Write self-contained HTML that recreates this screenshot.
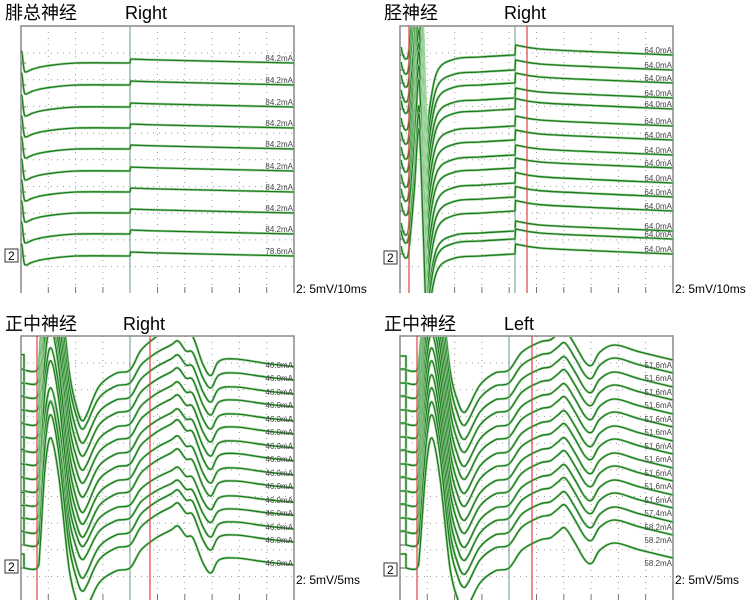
<!DOCTYPE html>
<html><head><meta charset="utf-8">
<style>
html,body{margin:0;padding:0;background:#fff;}
svg{display:block;}
text{font-family:"Liberation Sans","Noto Sans CJK SC",sans-serif;}
</style></head>
<body>
<svg id="c" width="751" height="606" xmlns="http://www.w3.org/2000/svg"></svg>
<script>
// ---------- data ----------
const titles1 = ["腓总神经", "胫神经", "正中神经", "正中神经"];
const sides = ["Right", "Right", "Right", "Left"];
const scales = ["2: 5mV/10ms", "2: 5mV/10ms", "2: 5mV/5ms", "2: 5mV/5ms"];
const labelsP1 = ["84.2mA","84.2mA","84.2mA","84.2mA","84.2mA","84.2mA","84.2mA","84.2mA","84.2mA","78.6mA"];
const labelsP2 = ["64.0mA","64.0mA","64.0mA","64.0mA","64.0mA","64.0mA","64.0mA","64.0mA","64.0mA","64.0mA","64.0mA","64.0mA","64.0mA","64.0mA","64.0mA"];
const labelsP3 = ["46.0mA","46.0mA","46.0mA","46.0mA","46.0mA","46.0mA","46.0mA","46.0mA","46.0mA","46.0mA","46.0mA","46.0mA","46.0mA","46.0mA","46.0mA"];
const labelsP4 = ["51.6mA","51.6mA","51.6mA","51.6mA","51.6mA","51.6mA","51.6mA","51.6mA","51.6mA","51.6mA","51.6mA","57.4mA","58.2mA","58.2mA","58.2mA"];
// trace baselines per panel
const baseP1 = [63,85,107,128,149,171,192,213,234,256];
const baseP2 = [55,70,83,98,109,126,140,155,168,183,197,211,231,239,254];
const baseP3 = [370,383,397,410,424,437,451,464,478,491,505,518,532,545,568];
const baseP4 = [370,383,397,410,424,437,451,464,478,491,505,518,532,545,568];
// per-trace amplitude factors of the responses
const ampP1 = [1,1,1,1,1,1,1,1,1,1];
const ampP2 = [1,1,1,1,1.05,1,1,1,1,1.05,1.05,1.05,1,1,1];
const ampP3 = [1.1,1,1,1,1,1,1,1.05,1,1,0.9,0.9,1,1,1];
const ampP4 = [1,1,1,1,1,1,1,1,1,1,1,1,1,1,1];
// waveform templates: [x offset px from frame left, y offset (negative = up)]
const tplP1 = [[0,-12],[1,-10],[3,6],[5,9],[12,6],[25,3],[55,0],[109,0],[109.5,-4],[140,-3],[273,0]];
const tplP2 = [[1,-8],[3,0],[6,4],[9,-5],[14,-60],[19,-125],[23,-30],[27,80],[30,50],[38,15],[55,4],[80,2],[115,0],[115.5,-10],[140,-6],[200,-3],[273,0]];
const tplP3 = [[0,-14],[3,-14],[3,0],[16,0],[19,-20],[24,-100],[30,-130],[38,-90],[48,0],[56,35],[61,46],[66,40],[78,15],[95,3],[109,0],[120,-18],[135,-30],[150,-38],[157,-42],[165,-32],[172,-30],[182,-5],[190,5],[198,-8],[215,-10],[245,-6],[273,-3]];
const tplP4 = [[0,-14],[6,-14],[6,0],[17,0],[20,-20],[26,-100],[32,-130],[40,-90],[50,0],[58,32],[63,42],[68,38],[80,15],[95,3],[109,0],[122,-18],[140,-28],[150,-30],[158,-36],[165,-40],[175,-25],[185,-8],[192,-5],[200,-18],[215,-25],[240,-18],[273,-10]];

// ---------- layout ----------
const panels = [
 {x:21,y:26,w:273,h:267,red:[],mid:130,labels:labelsP1,base:baseP1,amp:ampP1,tpl:tplP1,tx:5,ty:19,sx:125,scy:293,boxy:249},
 {x:400,y:26,w:273,h:267,red:[409,527],mid:515,labels:labelsP2,base:baseP2,amp:ampP2,tpl:tplP2,tx:384,ty:19,sx:504,scy:293,boxy:251},
 {x:21,y:336,w:273,h:264,red:[37,150],mid:130,labels:labelsP3,base:baseP3,amp:ampP3,tpl:tplP3,tx:5,ty:330,sx:123,scy:584,boxy:560},
 {x:400,y:336,w:273,h:264,red:[417,532],mid:509,labels:labelsP4,base:baseP4,amp:ampP4,tpl:tplP4,tx:384,ty:330,sx:504,scy:584,boxy:563}
];
const NS="http://www.w3.org/2000/svg";
const svg=document.getElementById('c');
function mk(tag,attrs,parent){const e=document.createElementNS(NS,tag);for(const k in attrs)e.setAttribute(k,attrs[k]);(parent||svg).appendChild(e);return e;}
function isV(a,b){return Math.abs(b[0]-a[0])<1;}
function smooth(pts){
  let d="M"+pts[0][0].toFixed(1)+","+pts[0][1].toFixed(1);
  for(let i=0;i<pts.length-1;i++){
    const p1=pts[i],p2=pts[i+1];
    if(isV(p1,p2)){d+=" L"+p2[0].toFixed(1)+","+p2[1].toFixed(1);continue;}
    let p0=pts[Math.max(0,i-1)],p3=pts[Math.min(pts.length-1,i+2)];
    if(i>0&&isV(p0,p1))p0=p1;
    if(i+2<pts.length&&isV(p2,p3))p3=p2;
    const c1=[p1[0]+(p2[0]-p0[0])/6,p1[1]+(p2[1]-p0[1])/6];
    const c2=[p2[0]-(p3[0]-p1[0])/6,p2[1]-(p3[1]-p1[1])/6];
    d+=" C"+c1[0].toFixed(1)+","+c1[1].toFixed(1)+" "+c2[0].toFixed(1)+","+c2[1].toFixed(1)+" "+p2[0].toFixed(1)+","+p2[1].toFixed(1);
  }
  return d;
}
panels.forEach((p,pi)=>{
  const g=mk('g',{});
  
  
  const t=mk('text',{x:p.tx,y:p.ty,'font-size':18,fill:'#000'},g);
  t.textContent=titles1[pi];
  
  
  const s=mk('text',{x:p.sx,y:p.ty,'font-size':18,fill:'#000'},g);
  s.textContent=sides[pi];
  
  
  const sc=mk('text',{x:p.x+p.w+2,y:p.scy,'font-size':12,fill:'#000'},g);
  sc.textContent=scales[pi];
  
  
  const step=27.3;
  for(let gx=p.x+step;gx<p.x+p.w-2;gx+=step){
    if(Math.abs(gx-p.mid)<5)continue;
    const l=mk('line',{x1:gx,y1:p.y,x2:gx,y2:p.y+p.h,stroke:'#999','stroke-width':1,'stroke-dasharray':'1,5'},g);
    
    
    mk('line',{x1:gx,y1:p.y+p.h-6,x2:gx,y2:p.y+p.h,stroke:'#777','stroke-width':1},g);
  }
  for(let gy=p.y+27;gy<p.y+p.h-2;gy+=26.7){
    const l=mk('line',{x1:p.x,y1:gy,x2:p.x+p.w,y2:gy,stroke:'#999','stroke-width':1,'stroke-dasharray':'1,5'},g);
    
    
  }
  const fr=mk('path',{d:`M${p.x},${p.y+p.h} V${p.y} H${p.x+p.w} V${p.y+p.h}`,fill:'none',stroke:'#888','stroke-width':1.5},g);
  
  
  const md=mk('line',{x1:p.mid,y1:p.y,x2:p.mid,y2:p.y+p.h,stroke:'#6a9a8a','stroke-width':1},g);
  
  
  p.base.forEach(b=>{mk('line',{x1:p.x,y1:b,x2:p.x+5,y2:b,stroke:'#555','stroke-width':1},g);});
  const bx=mk('rect',{x:p.x-16,y:p.boxy,width:13,height:13,fill:'#fff',stroke:'#333','stroke-width':1},g);
  
  
  const bt=mk('text',{x:p.x-13,y:p.boxy+11,'font-size':12,fill:'#000'},g);
  bt.textContent="2";
  const cp=mk('clipPath',{id:'cp'+pi},g);
  mk('rect',{x:p.x,y:p.y+1,width:p.w,height:p.h-1},cp);
  const tg=mk('g',{'clip-path':`url(#cp${pi})`},g);
  p.base.forEach((b,i)=>{
    const pts=p.tpl.map(q=>[p.x+q[0],b+q[1]*p.amp[i]]);
    const d=smooth(pts);
    mk('path',{d:d,fill:'none',stroke:'#a8d8a8','stroke-width':2.6,'stroke-linejoin':'round'},tg);
    const tr=mk('path',{d:d,fill:'none',stroke:'#1d7a1d','stroke-width':1.3,'stroke-linejoin':'round'},tg);
    
    
    const lb=mk('text',{x:p.x+p.w-1,y:b-2,'font-size':8,fill:'#444','text-anchor':'end'},g);
    lb.textContent=p.labels[i];
    
    
  });
  p.red.forEach(rx=>{
    const r=mk('line',{x1:rx,y1:p.y,x2:rx,y2:p.y+p.h,stroke:'#d44','stroke-width':1.2},g);
    
    
  });
});
</script>
</body></html>
